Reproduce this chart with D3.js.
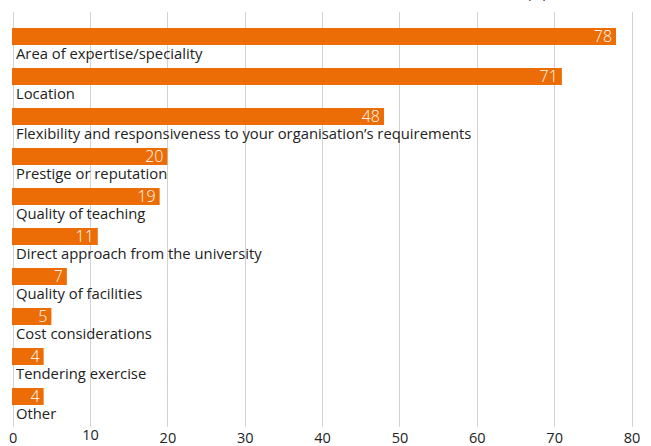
<!DOCTYPE html>
<html><head><meta charset="utf-8">
<script src="https://cdn.jsdelivr.net/npm/d3@7"></script>
<style>
body{margin:0;background:#fff;}
svg text{font-family:"Open Sans","Noto Sans",sans-serif;}
</style></head>
<body><svg id="c" width="651" height="446"></svg>
<script>
const categories = ["Area of expertise/speciality","Location","Flexibility and responsiveness to your organisation\u2019s requirements","Prestige or reputation","Quality of teaching","Direct approach from the university","Quality of facilities","Cost considerations","Tendering exercise","Other"];
const values = [78,71,48,20,19,11,7,5,4,4];
const ticks = [0,10,20,30,40,50,60,70,80];

const svg = d3.select("#c");
const x = d3.scaleLinear().domain([0,80]).range([12.7,631.5]);
const y = d3.scaleBand().domain(categories).range([28,428]).paddingInner(0).paddingOuter(0);
const barH = 17;

// unit label (cut off at top)
svg.append("text").attr("x",527).attr("y",-2).attr("font-size",14).attr("fill","#222").text("(%)");

// gridlines
svg.append("g").selectAll("line").data(ticks).join("line")
  .attr("x1",d=>Math.round(x(d))+0.5).attr("x2",d=>Math.round(x(d))+0.5)
  .attr("y1",12).attr("y2",427)
  .attr("stroke","#d2d2d2").attr("stroke-width",1);

// axis
const axis = d3.axisBottom(x).tickValues(ticks).tickSize(0).tickPadding(0);
const ag = svg.append("g").attr("transform","translate(0,430)").call(axis);
ag.select(".domain").remove();
ag.selectAll("text").attr("font-size",14.5).attr("fill","#222")
  .attr("font-family","'Open Sans','Noto Sans',sans-serif")
  .attr("dy","0.71em").attr("y",d=>d===10?0:3);

// bars
const g = svg.append("g");
g.selectAll("rect").data(values).join("rect")
  .attr("x",x(0)-0.7).attr("y",(d,i)=>y(categories[i]))
  .attr("width",d=>x(d)-x(0)+0.7).attr("height",barH)
  .attr("fill","#ec6c05");

g.selectAll("text.v").data(values).join("text").attr("class","v")
  .attr("x",d=>x(d)-4).attr("y",(d,i)=>y(categories[i])+barH/2)
  .attr("dy","0.36em").attr("text-anchor","end")
  .attr("font-size",16).attr("fill","#fff").attr("font-weight",300)
  .text(d=>d);

g.selectAll("text.c").data(categories).join("text").attr("class","c")
  .attr("x",16).attr("y",d=>y(d)+31)
  .attr("font-size",14.8).attr("fill","#222")
  .text(d=>d);
</script></body></html>
